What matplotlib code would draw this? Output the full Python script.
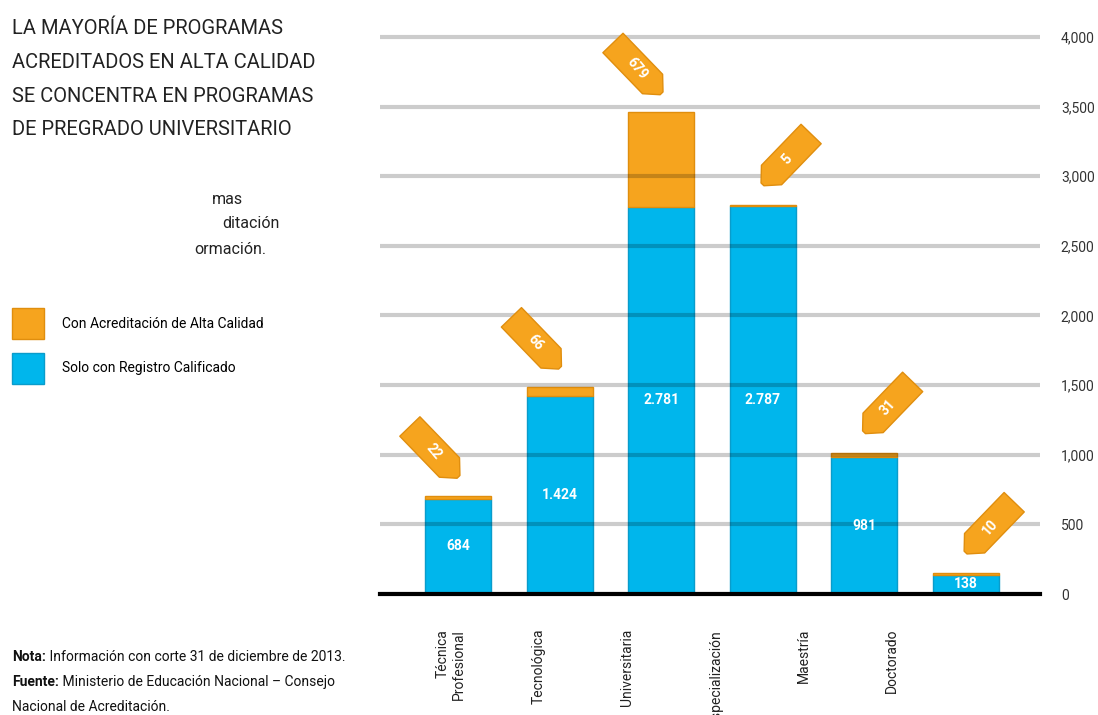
import matplotlib
matplotlib.use("Agg")
import matplotlib.pyplot as plt
from matplotlib.patches import Polygon, Patch
from matplotlib.transforms import Affine2D, ScaledTranslation, blended_transform_factory
import numpy as np

# ---------------- data ----------------
categories = ["Técnica\nProfesional", "Tecnológica", "Universitaria",
              "Especialización", "Maestría", "Doctorado"]
registro = [684, 1424, 2781, 2787, 981, 138]          # Solo con Registro Calificado
alta_calidad = [22, 66, 679, 5, 31, 10]              # Con Acreditación de Alta Calidad
registro_labels = ["684", "1.424", "2.781", "2.787", "981", "138"]
tag_side = ["left", "left", "left", "right", "right", "right"]
yticks = [0, 500, 1000, 1500, 2000, 2500, 3000, 3500, 4000]
ytick_labels = ["0", "500", "1,000", "1,500", "2,000", "2,500", "3,000", "3,500", "4,000"]

title_lines = ["LA MAYORÍA DE PROGRAMAS", "ACREDITADOS EN ALTA CALIDAD",
               "SE CONCENTRA EN PROGRAMAS", "DE PREGRADO UNIVERSITARIO"]
legend_labels = ["Con Acreditación de Alta Calidad", "Solo con Registro Calificado"]

# ---------------- style ----------------
BLUE = "#00B6EC"
BLUE_EDGE = "#0A9CCB"
ORANGE = "#F6A41E"
ORANGE_EDGE = "#E08E0E"
plt.rcParams["font.family"] = ["Roboto", "DejaVu Sans"]

W, H = 1098, 715
fig = plt.figure(figsize=(W / 100, H / 100), dpi=100)
fig.patch.set_facecolor("white")

ax = fig.add_axes([380 / W, 1 - 594 / H, 660 / W, 564 / H])
x = np.arange(len(categories))
bw = 0.65
ax.bar(x, registro, width=bw, color=BLUE, edgecolor=BLUE_EDGE, linewidth=1, zorder=1)
ax.bar(x, alta_calidad, bottom=registro, width=bw, color=ORANGE,
       edgecolor=ORANGE_EDGE, linewidth=1, zorder=1)
ax.set_xlim(-0.77, 5.73)
ax.set_ylim(0, 4050)

ax.set_yticks(yticks)
ax.set_yticklabels(ytick_labels)
ax.yaxis.tick_right()
ax.tick_params(axis="y", length=0, pad=15, labelsize=10, labelcolor="#333333")
ax.set_xticks([])
ax.grid(axis="y", color="black", alpha=0.2, linewidth=3)
ax.set_axisbelow(False)
for s in ["top", "left", "right"]:
    ax.spines[s].set_visible(False)
ax.spines["bottom"].set_color("black")
ax.spines["bottom"].set_linewidth(3)
ax.spines["bottom"].set_zorder(4)

# value labels inside blue segments
for i, (r, lbl) in enumerate(zip(registro, registro_labels)):
    ax.text(i, r / 2, lbl, ha="center", va="center", color="white",
            fontsize=10, fontweight="bold", zorder=5)

# rotated category labels
trans = blended_transform_factory(ax.transData, ax.transAxes)
for i, cat in enumerate(categories):
    ax.text(i * 0.87 - 0.075, -0.062, cat, transform=trans, rotation=90,
            ha="center", va="top", multialignment="right", fontsize=10,
            color="#222222", clip_on=False)

# arrow-shaped tags with the accredited counts
verts = [(-35, -14), (22, -14), (35, -2), (35, 2), (22, 14), (-35, 14)]
for i, (r, a, side) in enumerate(zip(registro, alta_calidad, tag_side)):
    top = r + a
    if side == "left":
        ang, dx, dy, trot = -46, -24, 44, -50
    else:
        ang, dx, dy, trot = -134, 24, 46, 48
    tr = (Affine2D().rotate_deg(ang).translate(dx, dy)
          + ScaledTranslation(i, top, ax.transData))
    poly = Polygon(verts, closed=True, transform=tr, facecolor=ORANGE,
                   edgecolor=ORANGE_EDGE, linewidth=1, joinstyle="round",
                   clip_on=False, zorder=6)
    ax.add_patch(poly)
    ax.annotate(str(a), xy=(i, top), xytext=(dx * 0.72, dy * 0.72),
                textcoords="offset points", rotation=trot, ha="center",
                va="center", color="white", fontsize=10, fontweight="bold",
                zorder=7)

# title
for k, line in enumerate(title_lines):
    fig.text(12 / W, 1 - (29 + k * 33.5) / H, line, ha="left", va="center",
             fontsize=14.5, color="#222222")

# fragments of a partially hidden note
for xx, yy, s in [(212, 199, "mas"), (222, 224, "ditación"), (194, 250, "ormación.")]:
    fig.text(xx / W, 1 - yy / H, s, ha="left", va="center", fontsize=11.5,
             color="#222222")

# legend
handles = [Patch(facecolor=ORANGE, edgecolor=ORANGE_EDGE),
           Patch(facecolor=BLUE, edgecolor=BLUE_EDGE)]
fig.legend(handles, legend_labels, loc="upper left",
           bbox_to_anchor=(12 / W, 1 - 308 / H), frameon=False,
           prop={"size": 10},
           handlelength=2.3, handleheight=3.1, handletextpad=1.3,
           labelspacing=0.95, borderpad=0, borderaxespad=0)

# notes
notes = [("Nota:", " Información con corte 31 de diciembre de 2013.", 657),
         ("Fuente:", " Ministerio de Educación Nacional – Consejo", 682),
         ("", "Nacional de Acreditación.", 707)]
for bold, rest, yy in notes:
    t = fig.text(12 / W, 1 - yy / H, bold, ha="left", va="center",
                 fontsize=10, fontweight="bold", color="#111111")
    ax.annotate(rest, xy=(1, 0.5), xycoords=t, xytext=(0, 0),
                textcoords="offset points", ha="left", va="center",
                fontsize=10, color="#111111")

fig.savefig("out.png", dpi=100, facecolor="white")
